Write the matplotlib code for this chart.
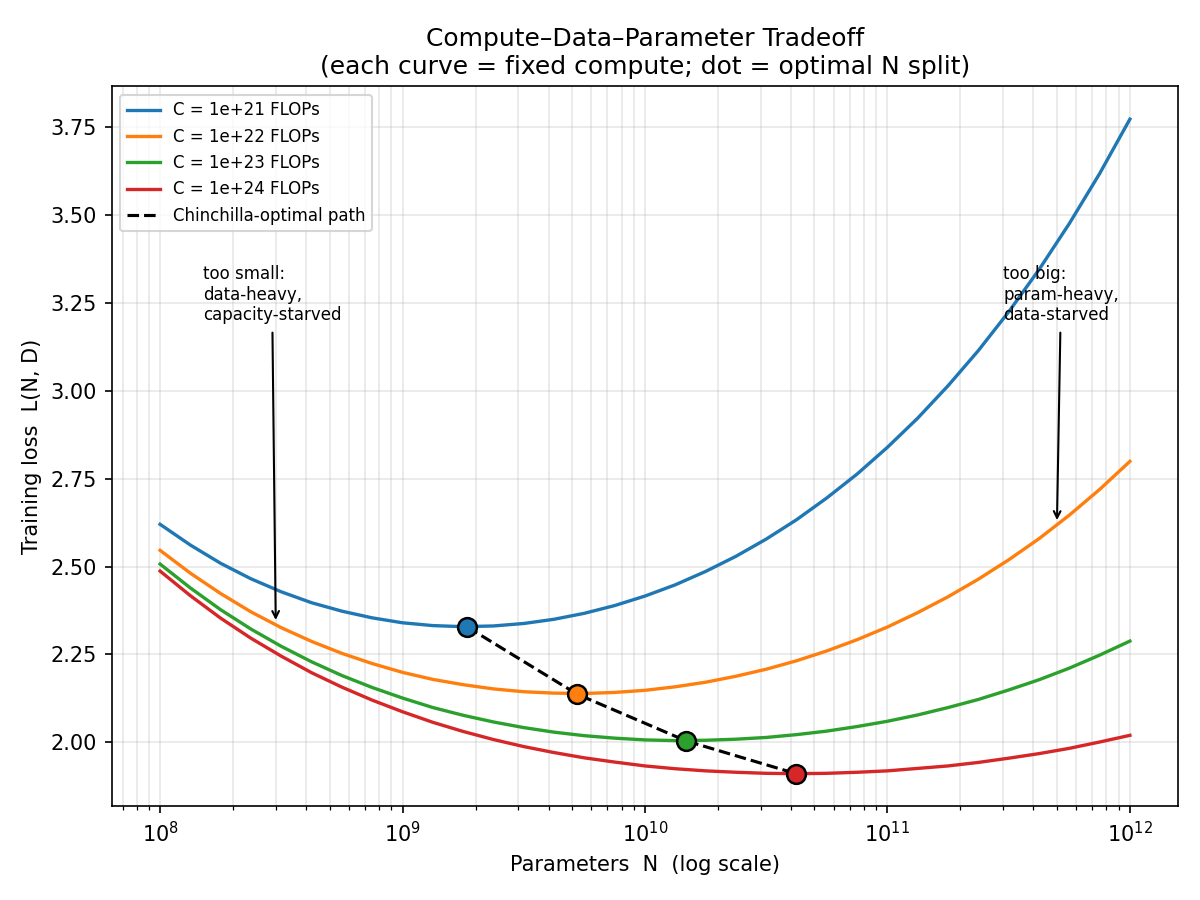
import numpy as np
import matplotlib
matplotlib.use('Agg')
import matplotlib.pyplot as plt

# parameter counts (log10), read every eighth of a decade
log_n = [8.0, 8.125, 8.25, 8.375, 8.5, 8.625, 8.75, 8.875,
         9.0, 9.125, 9.25, 9.375, 9.5, 9.625, 9.75, 9.875,
         10.0, 10.125, 10.25, 10.375, 10.5, 10.625, 10.75, 10.875,
         11.0, 11.125, 11.25, 11.375, 11.5, 11.625, 11.75, 11.875, 12.0]

compute_labels = ['C = 1e+21 FLOPs', 'C = 1e+22 FLOPs',
                  'C = 1e+23 FLOPs', 'C = 1e+24 FLOPs']

loss_c21 = [2.620, 2.561, 2.509, 2.465, 2.428, 2.397, 2.373, 2.354,
            2.340, 2.332, 2.329, 2.331, 2.338, 2.350, 2.367, 2.389,
            2.416, 2.448, 2.486, 2.529, 2.578, 2.633, 2.695, 2.763,
            2.839, 2.922, 3.014, 3.114, 3.224, 3.344, 3.475, 3.617, 3.772]
loss_c22 = [2.546, 2.481, 2.423, 2.371, 2.326, 2.287, 2.253, 2.224,
            2.199, 2.179, 2.164, 2.152, 2.144, 2.140, 2.139, 2.142,
            2.148, 2.158, 2.171, 2.188, 2.208, 2.232, 2.260, 2.292,
            2.328, 2.369, 2.414, 2.464, 2.519, 2.579, 2.646, 2.719, 2.799]
loss_c23 = [2.507, 2.439, 2.377, 2.322, 2.273, 2.229, 2.190, 2.156,
            2.126, 2.099, 2.077, 2.058, 2.042, 2.029, 2.019, 2.012,
            2.007, 2.005, 2.006, 2.009, 2.014, 2.022, 2.032, 2.045,
            2.060, 2.078, 2.099, 2.122, 2.149, 2.178, 2.211, 2.248, 2.288]
loss_c24 = [2.487, 2.417, 2.353, 2.296, 2.245, 2.198, 2.157, 2.120,
            2.087, 2.057, 2.031, 2.008, 1.988, 1.971, 1.956, 1.944,
            1.933, 1.925, 1.919, 1.915, 1.912, 1.911, 1.912, 1.915,
            1.919, 1.926, 1.933, 1.943, 1.955, 1.968, 1.983, 2.001, 2.020]

# optimal split per compute budget
opt_n = [1.85e9, 5.25e9, 1.48e10, 4.2e10]
opt_loss = [2.328, 2.137, 2.004, 1.911]

colors = ['#1f77b4', '#ff7f0e', '#2ca02c', '#d62728']

n_vals = 10.0 ** np.array(log_n)
curves = [loss_c21, loss_c22, loss_c23, loss_c24]

fig, ax = plt.subplots(figsize=(8, 6), dpi=150)
fig.subplots_adjust(left=0.093, right=0.982, top=0.904, bottom=0.104)

for loss, label, c in zip(curves, compute_labels, colors):
    ax.plot(n_vals, loss, color=c, lw=1.6, label=label)

ax.plot(opt_n, opt_loss, 'k--', lw=1.5, label='Chinchilla-optimal path', zorder=3)
for n, l, c in zip(opt_n, opt_loss, colors):
    ax.plot(n, l, 'o', color=c, markersize=9, markeredgecolor='black',
            markeredgewidth=1.2, zorder=4)

ax.set_xscale('log')
ax.grid(True, which='both', alpha=0.3)

ax.annotate('too small:\ndata-heavy,\ncapacity-starved', xy=(3e8, 2.336),
            xytext=(1.5e8, 3.2), fontsize=8,
            arrowprops=dict(arrowstyle='->', color='black', lw=1))
ax.annotate('too big:\nparam-heavy,\ndata-starved', xy=(5e11, 2.62),
            xytext=(3e11, 3.2), fontsize=8,
            arrowprops=dict(arrowstyle='->', color='black', lw=1))

ax.set_xlabel('Parameters  N  (log scale)')
ax.set_ylabel('Training loss  L(N, D)')
ax.set_title('Compute–Data–Parameter Tradeoff\n(each curve = fixed compute; dot = optimal N split)',
             fontsize=12)
ax.legend(loc='upper left', fontsize=8)

plt.savefig('out.png')
